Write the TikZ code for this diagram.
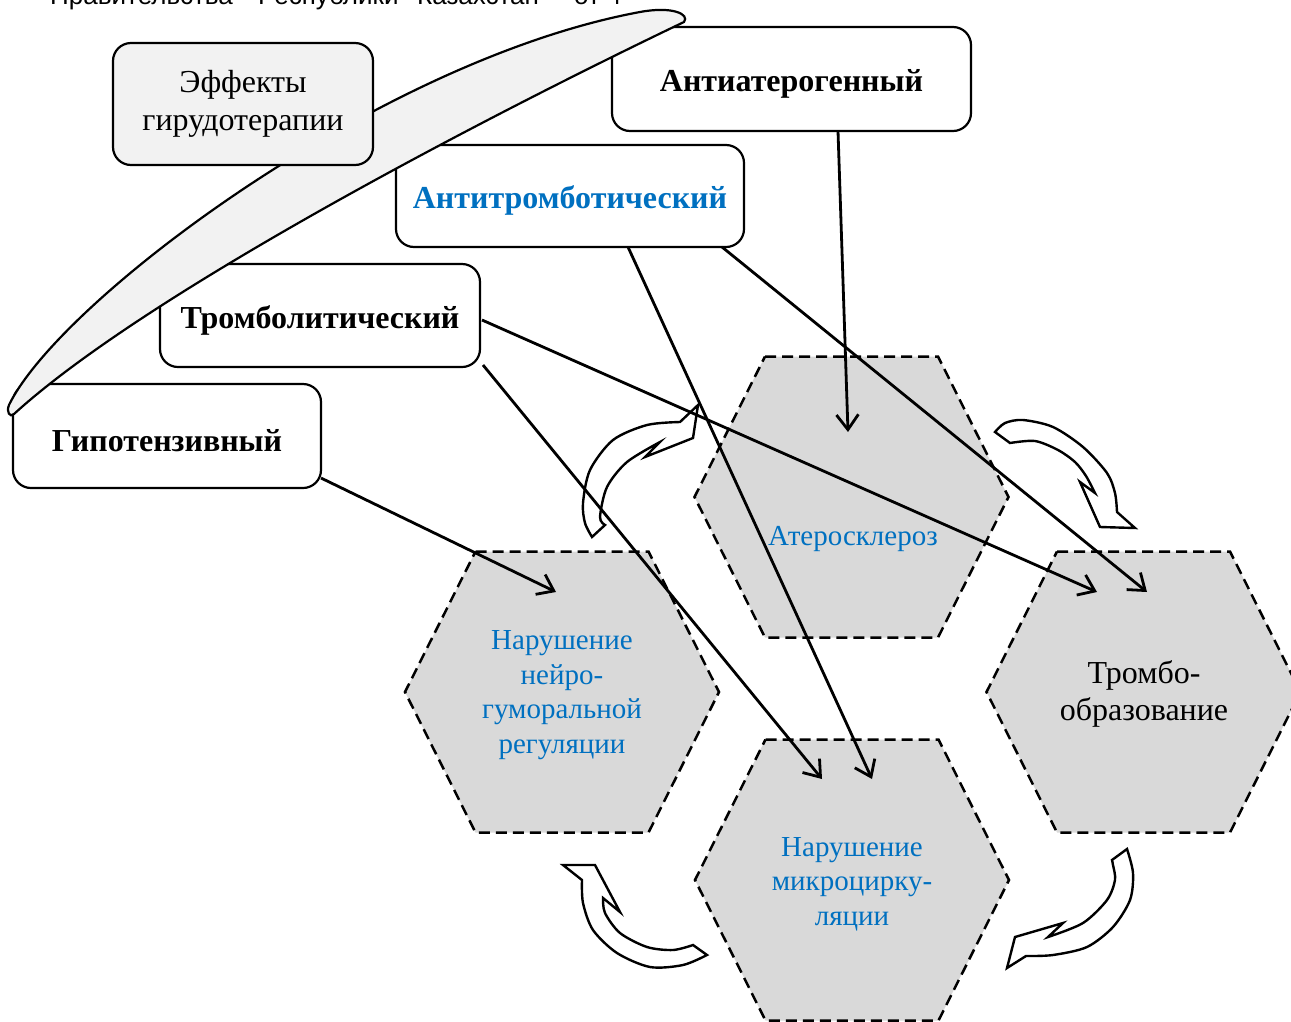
\documentclass[tikz,border=0pt]{standalone}
\usepackage{fontspec}
\setmainfont{Liberation Serif}
\newfontfamily\topfont{Liberation Sans}
\usetikzlibrary{arrows.meta}
\definecolor{wblue}{RGB}{0,112,192}
\definecolor{hexgray}{RGB}{217,217,217}
\definecolor{palegray}{RGB}{242,242,242}
\newcommand\hexpath[2]{\path[hexshape] ({#1-86.5},{#2-140.5}) -- ({#1+86.5},{#2-140.5}) -- ({#1+157},{#2}) -- ({#1+86.5},{#2+140.5}) -- ({#1-86.5},{#2+140.5}) -- ({#1-157},{#2}) -- cycle;}
\newcommand\lowertxt[1]{\raisebox{-4.5pt}[\height][\depth]{#1}}
\begin{document}
\begin{tikzpicture}[x=1pt,y=-1pt,
  effbox/.style={draw,line width=2.2pt,rounded corners=18pt,inner sep=0pt,align=center,fill=white},
  lab/.style={font=\fontsize{32}{37}\selectfont\bfseries},
  hexshape/.style={fill=hexgray,draw,line width=2.5pt,dash pattern=on 11pt off 6pt},
  hextext/.style={align=center,inner sep=0pt,font=\fontsize{29}{34.5}\selectfont},
  conn/.style={line width=2.8pt,-{Straight Barb[length=15pt,width=22pt,line width=2.8pt]}},
  blockarrow/.style={draw,fill=white,line width=2.4pt,line join=miter},
  hdr/.style={anchor=base west,inner sep=0pt,font=\topfont\fontsize{26}{30}\selectfont}
]
\useasboundingbox (0,0) rectangle (1291,1021);

% header line (cut by the page edge, as in the original)
\node[hdr] (h1) at (50,4.5) {Правительства};
\node[hdr] (h2) at (258,4.5) {Республики};
\node[hdr] (h3) at (417,4.5) {Казахстан};
\node[hdr] (h4) at (574,4.5) {от};
\node[hdr] (h5) at (607,4.5) {4};

% hexagons
\hexpath{851.5}{497}
\hexpath{1143.5}{692}
\hexpath{562}{692}
\hexpath{852}{880}
\node[hextext,text=wblue] (athero) at (853,539) {Атеросклероз};
\node[hextext,font=\fontsize{32}{37}\selectfont] (thromb) at (1144,694) {Тромбо-\\образование};
\node[hextext,text=wblue] (neuro) at (562,695) {Нарушение\\нейро-\\гуморальной\\регуляции};
\node[hextext,text=wblue] (micro) at (852,884) {Нарушение\\микроцирку-\\ляции};

% curved block arrows
\draw[blockarrow] (592,537) -- plot[smooth] coordinates {(592,537) (585,523) (583,503) (590,470) (613,440) (647,425) (680,422)} -- (698,405) -- (693,438) -- (645,457) -- (660,442) -- plot[smooth] coordinates {(660,442) (627,462) (607,487) (600,517) (605,525)} -- cycle;
\draw[blockarrow] (995,432) -- plot[smooth] coordinates {(995,432) (1005,423) (1023,420) (1053,427) (1083,447) (1107,473) (1115,493) (1117,512)} -- (1135,528) -- (1100,527) -- (1080,482) -- (1095,493) -- plot[smooth] coordinates {(1095,493) (1086,476) (1075,462) (1058,450) (1035,441) (1010,443)} -- cycle;
\draw[blockarrow] (1127,849) -- plot[smooth] coordinates {(1127,849) (1133,873) (1130,900) (1113,927) (1087,947) (1053,955) (1026,956)} -- (1007,968) -- (1015,937) -- (1063,923) -- (1048,937) -- plot[smooth] coordinates {(1048,937) (1083,923) (1107,900) (1115,880) (1113,865) (1112,860)} -- cycle;
\draw[blockarrow] (707,955) -- plot[smooth] coordinates {(707,955) (683,965) (650,967) (617,953) (593,930) (583,903) (582,880)} -- (563,865) -- (595,865) -- (620,912) -- (603,898) -- plot[smooth] coordinates {(603,898) (605,913) (620,933) (647,947) (673,950) (693,945)} -- cycle;

% effect boxes
\node[effbox,minimum width=308pt,minimum height=104pt,lab] (gip) at (167,436) {\lowertxt{Гипотензивный}};
\node[effbox,minimum width=320pt,minimum height=103pt,lab] (trl) at (320,315.5) {\lowertxt{Тромболитический}};
\node[effbox,minimum width=348pt,minimum height=102pt,lab,text=wblue] (atr) at (570,196) {\lowertxt{Антитромботический}};
\node[effbox,minimum width=359pt,minimum height=104pt,lab] (ath) at (791.5,79) {\lowertxt{Антиатерогенный}};

% grouping lens
\path[fill=palegray,draw,line width=2.2pt] (9,405) .. controls (60,300) and (380,60) .. (640,12) .. controls (672,6) and (690,14) .. (684,22) .. controls (500,110) and (150,290) .. (14,414) .. controls (10,418) and (6,412) .. (9,405) -- cycle;

\node[effbox,fill=palegray,minimum width=260pt,minimum height=122pt,font=\fontsize{32}{38}\selectfont] (eff) at (243,104) {Эффекты\\гирудотерапии};

% connector endpoints
\coordinate (ath-o) at (838,131);
\coordinate (atr-o1) at (722,247);
\coordinate (atr-o2) at (628,247);
\coordinate (trl-o1) at (482,320);
\coordinate (trl-o2) at (483,365);
\coordinate (gip-o) at (321,478);
\coordinate (athero-in) at (848,432);
\coordinate (thromb-in1) at (1147,592);
\coordinate (thromb-in2) at (1097,592);
\coordinate (micro-in1) at (872,779);
\coordinate (micro-in2) at (822,779);
\coordinate (neuro-in) at (556,592);

\draw[conn] (ath-o) -- (athero-in);
\draw[conn] (atr-o1) -- (thromb-in1);
\draw[conn] (atr-o2) -- (micro-in1);
\draw[conn] (trl-o1) -- (thromb-in2);
\draw[conn] (trl-o2) -- (micro-in2);
\draw[conn] (gip-o) -- (neuro-in);
\end{tikzpicture}
\end{document}
